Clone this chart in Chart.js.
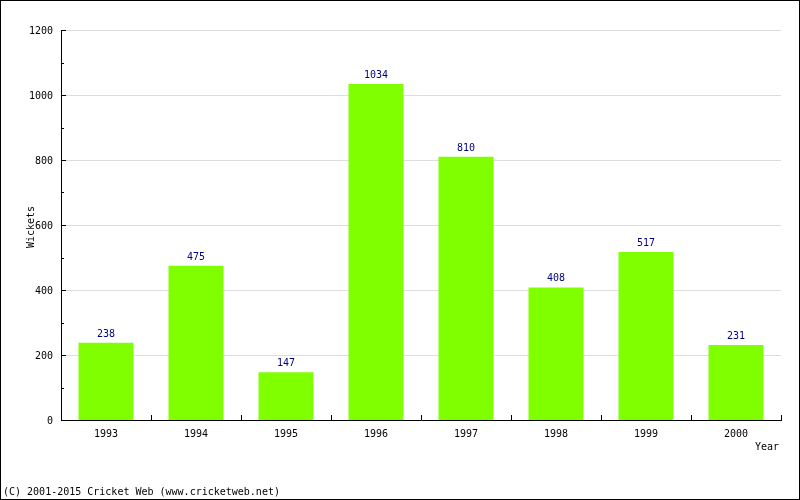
<!DOCTYPE html>
<html>
<head>
<meta charset="utf-8">
<script src="https://cdn.jsdelivr.net/npm/chart.js@4/dist/chart.umd.min.js"></script>
<style>
html,body{margin:0;padding:0;background:#fff;}
canvas{display:block;}
</style>
</head>
<body>
<canvas id="c" width="800" height="500"></canvas>
<script>
const years = ["1993","1994","1995","1996","1997","1998","1999","2000"];
const wickets = [238, 475, 147, 1034, 810, 408, 517, 231];
const yMax = 1200;
const yStep = 100;
const yMajor = 200;
const FONT = '"DejaVu Sans Mono", "Liberation Mono", monospace';

const extras = {
  id: 'extras',
  beforeDatasetsDraw(chart) {
    const ctx = chart.ctx;
    const y = chart.scales.y;
    const area = chart.chartArea;
    ctx.save();
    ctx.strokeStyle = '#dddddd';
    ctx.lineWidth = 1;
    for (let v = yMajor; v <= yMax; v += yMajor) {
      const py = Math.round(y.getPixelForValue(v)) + 0.5;
      ctx.beginPath();
      ctx.moveTo(area.left + 5, py);
      ctx.lineTo(area.right, py);
      ctx.stroke();
    }
    ctx.restore();
  },
  afterDraw(chart) {
    const ctx = chart.ctx;
    const y = chart.scales.y, x = chart.scales.x;
    const area = chart.chartArea;
    ctx.save();
    ctx.strokeStyle = '#000';
    ctx.lineWidth = 1;
    for (let v = 0; v <= yMax; v += yStep) {
      const py = Math.round(y.getPixelForValue(v)) + 0.5;
      const len = (v % yMajor === 0) ? 5 : 3;
      ctx.beginPath();
      ctx.moveTo(area.left, py);
      ctx.lineTo(area.left + len, py);
      ctx.stroke();
    }
    const half = (x.getPixelForValue(1) - x.getPixelForValue(0)) / 2;
    for (let i = 0; i <= years.length; i++) {
      const px = Math.round(x.getPixelForValue(i) - half) + 0.5;
      ctx.beginPath();
      ctx.moveTo(px, area.bottom);
      ctx.lineTo(px, area.bottom - 5);
      ctx.stroke();
    }
    ctx.font = '10px ' + FONT;
    ctx.fillStyle = '#000080';
    ctx.textAlign = 'center';
    ctx.textBaseline = 'alphabetic';
    const meta = chart.getDatasetMeta(0);
    meta.data.forEach((bar, i) => {
      ctx.fillText(String(wickets[i]), bar.x, bar.y - 6);
    });
    ctx.fillStyle = '#000';
    ctx.textAlign = 'right';
    ctx.fillText('Year', 779, 450);
    ctx.save();
    ctx.translate(34, (area.top + area.bottom) / 2 + 2);
    ctx.rotate(-Math.PI / 2);
    ctx.textAlign = 'center';
    ctx.fillText('Wickets', 0, 0);
    ctx.restore();
    ctx.textAlign = 'left';
    ctx.fillText('(C) 2001-2015 Cricket Web (www.cricketweb.net)', 3, 495);
    ctx.strokeRect(0.5, 0.5, 799, 499);
    ctx.restore();
  }
};

new Chart(document.getElementById('c'), {
  type: 'bar',
  data: {
    labels: years,
    datasets: [{
      data: wickets,
      backgroundColor: '#80ff00',
      borderWidth: 0,
      barPercentage: 0.611,
      categoryPercentage: 1.0
    }]
  },
  options: {
    responsive: false,
    animation: false,
    devicePixelRatio: 1,
    layout: { padding: { top: 30, right: 19, left: 0, bottom: 0 } },
    plugins: { legend: { display: false }, tooltip: { enabled: false } },
    scales: {
      x: {
        afterFit(s) { s.height = 80; },
        grid: { display: false, drawTicks: false },
        border: { display: true, color: '#000', width: 1 },
        ticks: { color: '#000', font: { family: FONT, size: 10 }, padding: 8, maxRotation: 0 }
      },
      y: {
        min: 0, max: yMax,
        afterFit(s) { s.width = 61; },
        grid: { display: false, drawTicks: false },
        border: { display: true, color: '#000', width: 1 },
        ticks: {
          stepSize: yStep,
          color: '#000',
          font: { family: FONT, size: 10 },
          padding: 8,
          labelOffset: 1,
          autoSkip: false,
          callback: (v) => (v % yMajor === 0 ? String(v) : '')
        }
      }
    }
  },
  plugins: [extras]
});
</script>
</body>
</html>
